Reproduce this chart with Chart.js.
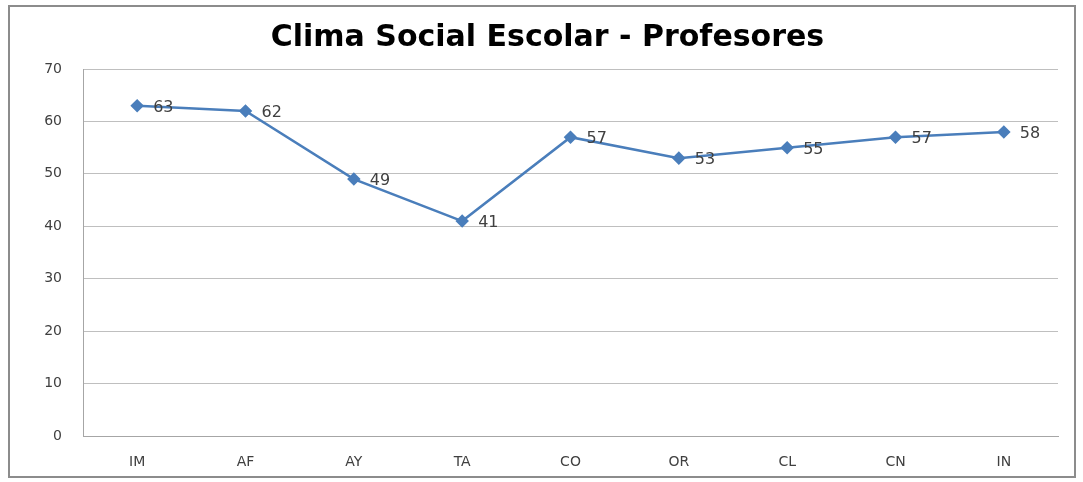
<!DOCTYPE html>
<html>
<head>
<meta charset="utf-8">
<script src="https://cdn.jsdelivr.net/npm/chart.js@4"></script>
<style>
  html, body { margin: 0; padding: 0; background: #fff; }
  #wrap { position: relative; width: 1083px; height: 482px; }
</style>
</head>
<body>
<div id="wrap"><canvas id="myChart" width="1083" height="482"></canvas></div>
<script>
// data
const categories = ["IM", "AF", "AY", "TA", "CO", "OR", "CL", "CN", "IN"];
const values = [63, 62, 49, 41, 57, 53, 55, 57, 58];
const yTicks = [0, 10, 20, 30, 40, 50, 60, 70];

const lineColor = "#4A7EBB";

// outer frame like the spreadsheet chart box
const framePlugin = {
  id: "frame",
  beforeDraw(chart) {
    const ctx = chart.ctx;
    ctx.save();
    ctx.fillStyle = "#fff";
    ctx.fillRect(0, 0, chart.width, chart.height);
    ctx.strokeStyle = "#8c8c8c";
    ctx.lineWidth = 2;
    ctx.strokeRect(9, 6, 1066, 471);
    ctx.restore();
  },
};

// value labels to the right of each point
const labelPlugin = {
  id: "valueLabels",
  afterDatasetsDraw(chart) {
    const ctx = chart.ctx;
    const meta = chart.getDatasetMeta(0);
    ctx.save();
    ctx.font = "16px 'DejaVu Sans'";
    ctx.fillStyle = "#404040";
    ctx.textAlign = "left";
    ctx.textBaseline = "middle";
    meta.data.forEach(function (pt, i) {
      ctx.fillText(String(values[i]), pt.x + 16, pt.y + 2);
    });
    ctx.restore();
  },
};

var config = {
  type: "line",
  data: {
    labels: categories,
    datasets: [
      {
        label: "Profesores",
        data: values,
        borderColor: lineColor,
        backgroundColor: lineColor,
        borderWidth: 2.5,
        pointStyle: "rectRot",
        pointRadius: 5,
        pointHoverRadius: 5,
        tension: 0,
      },
    ],
  },
  options: {
    responsive: false,
    animation: false,
    layout: {
      padding: { left: 37, right: 25, top: 8, bottom: 8 },
    },
    plugins: {
      legend: { display: false },
      tooltip: { enabled: false },
      title: {
        display: true,
        text: "Clima Social Escolar - Profesores",
        color: "#000",
        font: { family: "DejaVu Sans", size: 30, weight: "bold" },
        padding: { top: 12, bottom: 13 },
      },
    },
    scales: {
      x: {
        offset: true,
        grid: { display: false, drawTicks: false },
        border: { display: true, color: "#a6a6a6", width: 1 },
        ticks: {
          color: "#404040",
          font: { family: "DejaVu Sans", size: 14 },
          padding: 18,
        },
        afterFit(scale) {
          scale.height = 38;
        },
      },
      y: {
        min: 0,
        max: 70,
        afterBuildTicks(scale) {
          scale.ticks = yTicks.map(function (v) { return { value: v }; });
        },
        grid: { color: "#bfbfbf", lineWidth: 1, drawTicks: false },
        border: { display: true, color: "#a6a6a6", width: 1 },
        ticks: {
          color: "#404040",
          font: { family: "DejaVu Sans", size: 14 },
          padding: 21,
        },
        afterFit(scale) {
          scale.width = 46;
        },
      },
    },
  },
  plugins: [framePlugin, labelPlugin],
};

const myChart = new Chart(document.getElementById("myChart"), config);
</script>
</body>
</html>
